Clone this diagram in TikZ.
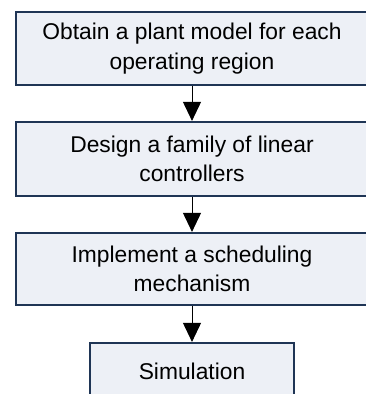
\documentclass[tikz,border=0pt]{standalone}
\usepackage{fontspec}
\setmainfont{Liberation Sans}
\usetikzlibrary{arrows.meta}
\definecolor{boxfill}{HTML}{EDF0F6}
\definecolor{boxline}{HTML}{1F3555}
\begin{document}
\begin{tikzpicture}[x=1pt,y=1pt,
  stepbox/.style={draw=boxline, fill=boxfill, line width=2.2pt, align=center,
    font=\fontsize{22.8}{29.5}\selectfont, inner sep=0pt},
  flow/.style={draw=black, line width=0.9pt, -{Triangle[length=19pt,width=18pt]}}]
\clip (0,0) rectangle (366,-394);
\useasboundingbox (0,0) rectangle (366,-394);
\node[stepbox, minimum width=352pt, minimum height=73pt] (b1) at (192,-48.5)
  {Obtain a plant model for each\\operating region};
\node[stepbox, minimum width=352pt, minimum height=74pt] (b2) at (192,-159)
  {Design a family of linear\\controllers};
\node[stepbox, minimum width=352pt, minimum height=72pt] (b3) at (192,-269)
  {Implement a scheduling\\mechanism};
\node[stepbox, minimum width=204pt, minimum height=56pt] (b4) at (192,-371)
  {Simulation};
\draw[flow] (b1.south) -- (b2.north);
\draw[flow] (b2.south) -- (b3.north);
\draw[flow] (b3.south) -- (b4.north);
\end{tikzpicture}
\end{document}
